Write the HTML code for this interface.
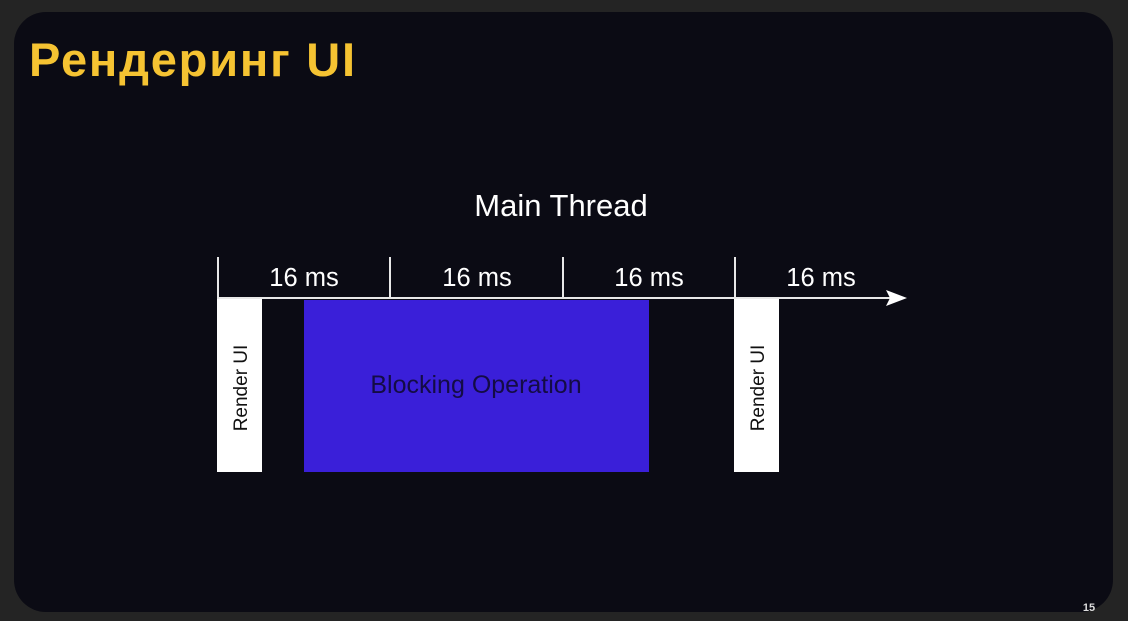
<!DOCTYPE html>
<html><head><meta charset="utf-8"><style>
html,body{margin:0;padding:0;width:1128px;height:621px;overflow:hidden;background:#242424;}
</style></head><body>
<svg width="1128" height="621" viewBox="0 0 1128 621" xmlns="http://www.w3.org/2000/svg" style="display:block">
<rect x="0" y="0" width="1128" height="621" fill="#242424"/>
<rect x="14" y="12" width="1099" height="600" rx="32" fill="#0b0b14"/>
<text x="29" y="76" font-family="Liberation Sans, sans-serif" font-weight="bold" font-size="47" letter-spacing="1.8" fill="#f5c332">Рендеринг UI</text>
<text x="561" y="216" text-anchor="middle" font-family="Liberation Sans, sans-serif" font-size="31" fill="#ffffff">Main Thread</text>
<g stroke="#e8e8e8" stroke-width="2">
<line x1="217" y1="298" x2="892" y2="298"/>
<line x1="218" y1="257" x2="218" y2="298"/>
<line x1="390" y1="257" x2="390" y2="298"/>
<line x1="563" y1="257" x2="563" y2="298"/>
<line x1="735" y1="257" x2="735" y2="298"/>
</g>
<polygon points="886,290 907,298 886,306 890,298" fill="#ffffff"/>
<g font-family="Liberation Sans, sans-serif" font-size="25.5" fill="#ffffff" text-anchor="middle">
<text x="304" y="286">16 ms</text>
<text x="477" y="286">16 ms</text>
<text x="649" y="286">16 ms</text>
<text x="821" y="286">16 ms</text>
</g>
<rect x="217" y="299" width="45" height="173" fill="#ffffff"/>
<rect x="734" y="299" width="45" height="173" fill="#ffffff"/>
<rect x="304" y="300" width="345" height="172" fill="#3a1fd9"/>
<text x="476" y="393" text-anchor="middle" font-family="Liberation Sans, sans-serif" font-size="25" fill="#140c45">Blocking Operation</text>
<g font-family="Liberation Sans, sans-serif" font-size="19" fill="#111" text-anchor="middle">
<text transform="translate(247,388) rotate(-90)">Render UI</text>
<text transform="translate(764,388) rotate(-90)">Render UI</text>
</g>
<text x="1089" y="611" text-anchor="middle" font-family="Liberation Sans, sans-serif" font-weight="bold" font-size="11" fill="#dddddd">15</text>
</svg>
</body></html>
